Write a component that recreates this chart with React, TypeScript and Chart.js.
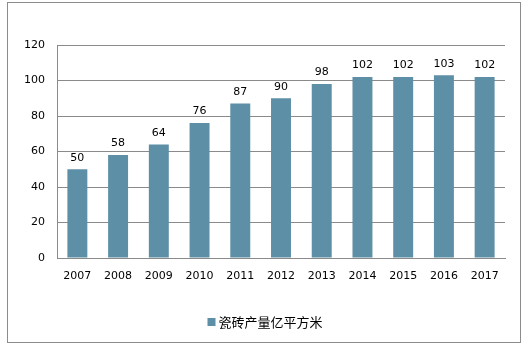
import React, { useEffect, useRef } from "react";
import { Chart, registerables } from "chart.js";

Chart.register(...registerables);

const categories = ["2007", "2008", "2009", "2010", "2011", "2012", "2013", "2014", "2015", "2016", "2017"];
const values = [50, 58, 64, 76, 87, 90, 98, 102, 102, 103, 102];
const seriesName = "瓷砖产量亿平方米";
const yTicks = [0, 20, 40, 60, 80, 100, 120];

const BAR_COLOR = "rgb(93,143,166)";
const GRID = "#8a8a8a";
const FONT = "'DejaVu Sans', Verdana, sans-serif";

export default function App() {
  const ref = useRef<HTMLCanvasElement | null>(null);
  useEffect(() => {
    if (!ref.current) return;
    const framePlugin = {
      id: "frame",
      beforeDraw(chart: any) {
        const ctx = chart.ctx;
        ctx.save();
        ctx.fillStyle = "#fff";
        ctx.fillRect(0, 0, chart.width, chart.height);
        ctx.strokeStyle = "#8c8c8c";
        ctx.lineWidth = 1;
        ctx.strokeRect(7.5, 2.5, 513, 340);
        ctx.restore();
      },
      afterDatasetsDraw(chart: any) {
        const ctx = chart.ctx;
        const meta = chart.getDatasetMeta(0);
        ctx.save();
        ctx.fillStyle = "#000";
        ctx.font = `11px ${FONT}`;
        ctx.textAlign = "center";
        ctx.textBaseline = "bottom";
        meta.data.forEach((bar: any, i: number) => {
          ctx.fillText(String(chart.data.datasets[0].data[i]), bar.x, bar.y - 6);
        });
        // legend
        const label = chart.data.datasets[0].label;
        ctx.font = `13px 'Noto Sans CJK SC', sans-serif`;
        const tw = ctx.measureText(label).width;
        const box = 8;
        const gap = 3;
        const total = box + gap + tw;
        const cx = 265;
        const x0 = cx - total / 2;
        const cy = 322;
        ctx.fillStyle = BAR_COLOR;
        ctx.fillRect(x0, cy - box / 2, box, box);
        ctx.fillStyle = "#000";
        ctx.textAlign = "left";
        ctx.textBaseline = "middle";
        ctx.fillText(label, x0 + box + gap, cy);
        ctx.restore();
      },
    };
    const chart = new Chart(ref.current, {
      type: "bar",
      data: {
        labels: categories,
        datasets: [
          {
            label: seriesName,
            data: values,
            backgroundColor: BAR_COLOR,
            barPercentage: 0.49,
            categoryPercentage: 1,
          },
        ],
      },
      options: {
        animation: false,
        responsive: false,
        maintainAspectRatio: false,
        layout: { padding: { left: 0, top: 45, right: 22, bottom: 53 } },
        plugins: { legend: { display: false }, tooltip: { enabled: false } },
        scales: {
          x: {
            grid: { display: false, drawTicks: false },
            border: { display: true, color: GRID },
            ticks: { color: "#000", font: { family: FONT, size: 11 }, padding: 12, maxRotation: 0 },
            afterFit(scale: any) {
              scale.height = 40;
            },
          },
          y: {
            min: 0,
            max: 120,
            afterBuildTicks(scale: any) {
              scale.ticks = yTicks.map((v) => ({ value: v }));
            },
            grid: { color: GRID, drawTicks: false },
            border: { display: true, color: GRID },
            ticks: { color: "#000", font: { family: FONT, size: 11 }, padding: 12 },
            afterFit(scale: any) {
              scale.width = 57;
            },
          },
        },
      },
      plugins: [framePlugin],
    });
    return () => chart.destroy();
  }, []);
  return (
    <div style={{ position: "fixed", left: 0, top: 0, width: 527, height: 351, background: "#fff" }}>
      <canvas ref={ref} width={527} height={351} style={{ width: 527, height: 351, display: "block" }} />
    </div>
  );
}
